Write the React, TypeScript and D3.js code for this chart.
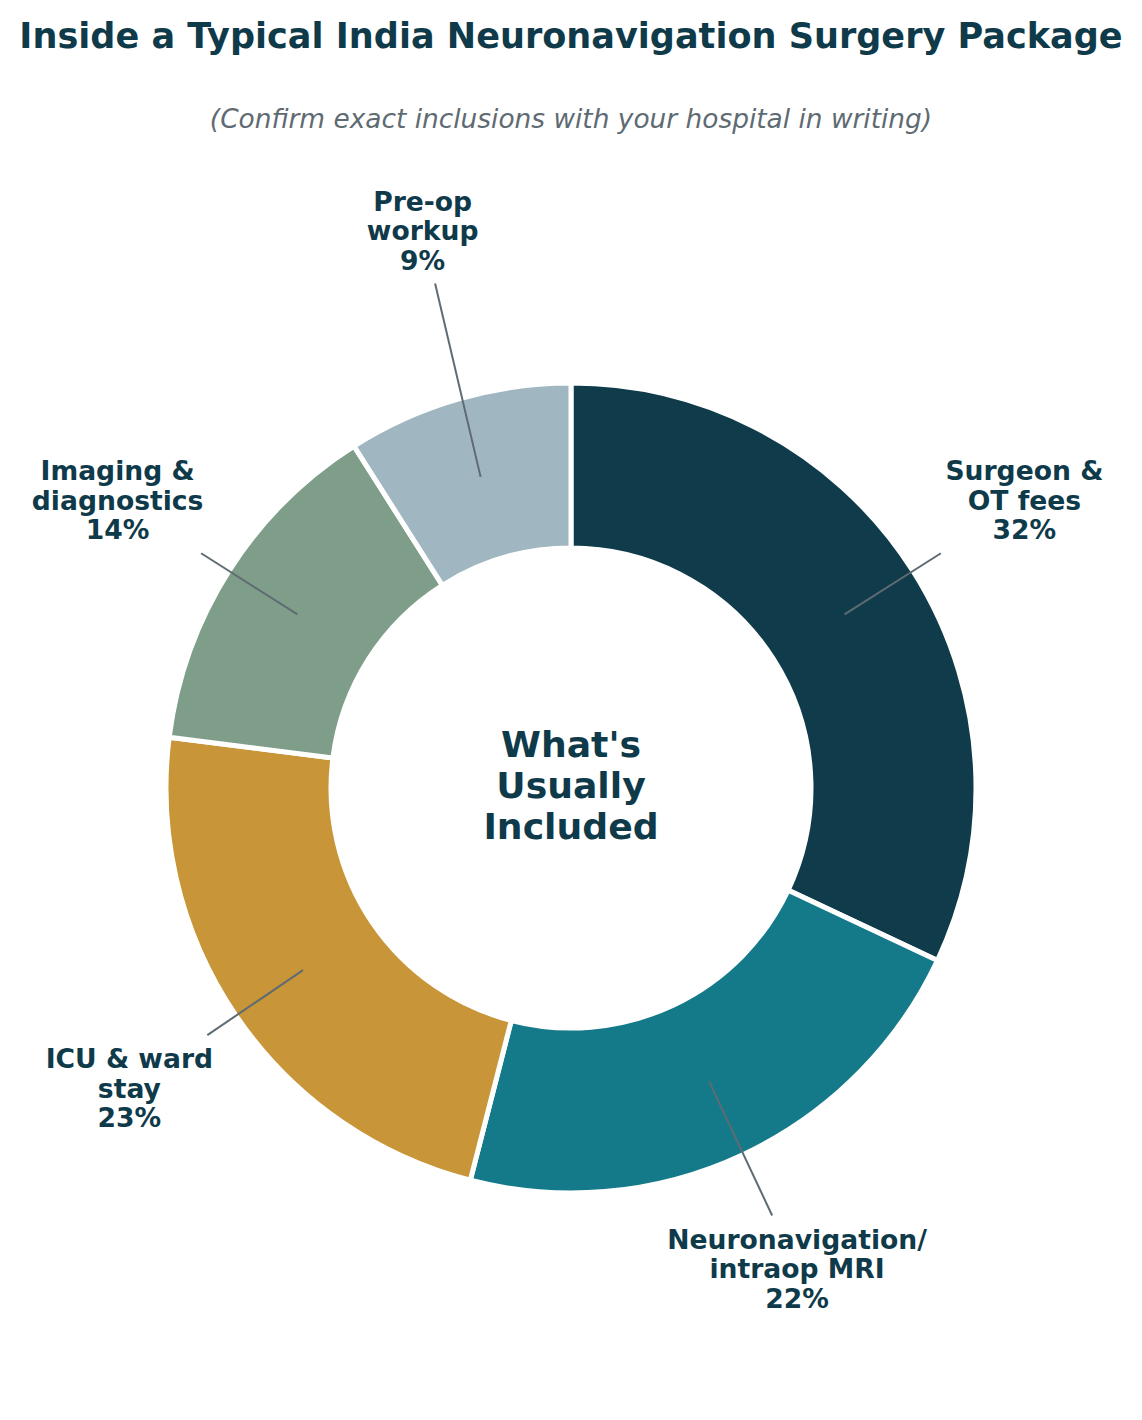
import React from "react";
import * as d3 from "d3";

const categories = [
  ["Surgeon &", "OT fees"],
  ["Neuronavigation/", "intraop MRI"],
  ["ICU & ward", "stay"],
  ["Imaging &", "diagnostics"],
  ["Pre-op", "workup"],
];
const values = [32, 22, 23, 14, 9];
const colors = ["#0f3b4a", "#147a8a", "#c89538", "#7e9e8a", "#a0b7c1"];
const centerLines = ["What's", "Usually", "Included"];
const title = "Inside a Typical India Neuronavigation Surgery Package";
const subtitle = "(Confirm exact inclusions with your hospital in writing)";

// layout
const W = 1142;
const H = 1420;
const CX = 571;
const CY = 788;
const R_OUT = 405;
const R_IN = 240;
const labelRadius = [537, 531, 534, 537, 577];
const labelAngleShift = [0, 0, 0, 0, 1.3]; // degrees
const TEXT = "#0f3a4a";
const GREY = "#5f6b73";
const FONT = "'DejaVu Sans', sans-serif";
const LABEL_FS = 26.6;
const LINE_H = 29.5;

function measure(text: string, size: number): number {
  if (typeof document === "undefined") return text.length * size * 0.62;
  const c = document.createElement("canvas");
  const ctx = c.getContext("2d");
  if (!ctx) return text.length * size * 0.62;
  ctx.font = `bold ${size}px 'DejaVu Sans'`;
  return ctx.measureText(text).width;
}

export default function App() {
  const pie = d3
    .pie<number>()
    .sort(null)
    .value((d) => d)
    .startAngle(0)
    .endAngle(2 * Math.PI);
  const arcs = pie(values);
  const arcGen = d3.arc<d3.PieArcDatum<number>>().innerRadius(R_IN).outerRadius(R_OUT);

  return (
    <svg
      width={W}
      height={H}
      style={{ position: "absolute", left: 0, top: 0, background: "#fff" }}
      fontFamily={FONT}
    >
      <rect x={0} y={0} width={W} height={H} fill="#ffffff" />
      <text x={W / 2} y={48} textAnchor="middle" fontSize={35.1} fontWeight="bold" fill={TEXT}>
        {title}
      </text>
      <text x={W / 2} y={128} textAnchor="middle" fontSize={26.4} fontStyle="italic" fill={GREY}>
        {subtitle}
      </text>
      <g transform={`translate(${CX},${CY})`}>
        {arcs.map((a, i) => (
          <path key={i} d={arcGen(a) || ""} fill={colors[i]} stroke="#ffffff" strokeWidth={5} />
        ))}
        {arcs.map((a, i) => {
          const mid = (a.startAngle + a.endAngle) / 2;
          const la = mid + (labelAngleShift[i] * Math.PI) / 180;
          const lr = labelRadius[i];
          const lx = Math.sin(la) * lr;
          const ly = -Math.cos(la) * lr;
          const startR = R_OUT * 0.8;
          const x1 = Math.sin(mid) * startR;
          const y1 = -Math.cos(mid) * startR;
          const lines = [...categories[i], `${values[i]}%`];
          const maxW = Math.max(...lines.map((l) => measure(l, LABEL_FS)));
          const hw = maxW / 2 + 6;
          const hh = 53;
          const dx = x1 - lx;
          const dy = y1 - ly;
          const len = Math.hypot(dx, dy);
          const ux = dx / len;
          const uy = dy / len;
          const tX = Math.abs(ux) > 1e-6 ? hw / Math.abs(ux) : Infinity;
          const tY = Math.abs(uy) > 1e-6 ? hh / Math.abs(uy) : Infinity;
          const t = Math.min(tX, tY);
          const x2 = lx + ux * t;
          const y2 = ly + uy * t;
          const n = lines.length;
          return (
            <g key={`l${i}`}>
              <line x1={x1} y1={y1} x2={x2} y2={y2} stroke={GREY} strokeWidth={2} />
              <text textAnchor="middle" fontSize={LABEL_FS} fontWeight="bold" fill={TEXT}>
                {lines.map((l, j) => (
                  <tspan key={j} x={lx} y={ly + 9.7 + (j - (n - 1) / 2) * LINE_H}>
                    {l}
                  </tspan>
                ))}
              </text>
            </g>
          );
        })}
        <text textAnchor="middle" fontSize={36.2} fontWeight="bold" fill={TEXT}>
          {centerLines.map((l, j) => (
            <tspan key={j} x={0} y={10 + (j - 1) * 41}>
              {l}
            </tspan>
          ))}
        </text>
      </g>
    </svg>
  );
}
